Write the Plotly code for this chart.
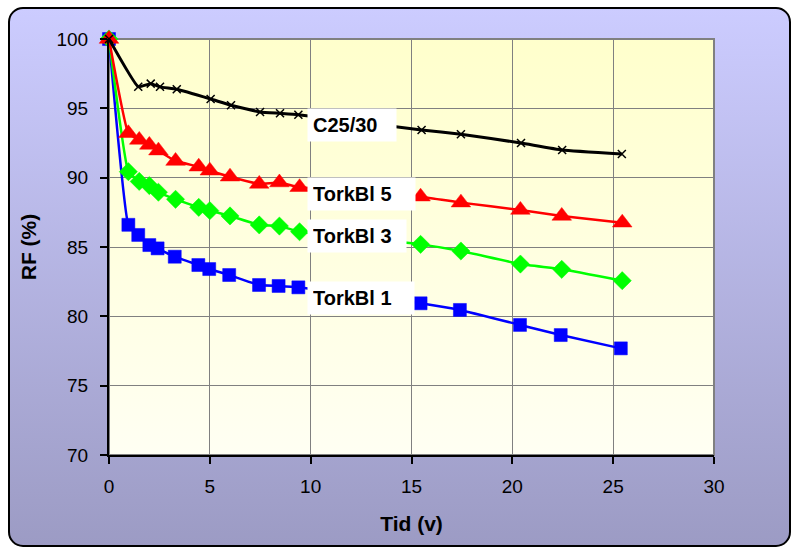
import base64
import plotly.graph_objects as go

# ---- data ----
t1_x = [0, 0.96, 1.45, 2.0, 2.41, 3.26, 4.43, 4.97, 5.96, 7.44, 8.41, 9.39, 15.45, 17.4, 20.38, 22.4, 25.38]
t1_y = [100, 86.6, 85.87, 85.14, 84.9, 84.3, 83.7, 83.41, 82.98, 82.26, 82.19, 82.09, 80.94, 80.46, 79.38, 78.65, 77.69]

t3_x = [0, 0.96, 1.5, 2.0, 2.45, 3.3, 4.45, 5.0, 6.0, 7.45, 8.45, 9.45, 15.45, 17.45, 20.4, 22.45, 25.45]
t3_y = [100, 90.43, 89.73, 89.43, 88.95, 88.44, 87.86, 87.62, 87.24, 86.59, 86.51, 86.1, 85.19, 84.71, 83.77, 83.39, 82.57]

t5_x = [0, 0.96, 1.5, 2.0, 2.45, 3.3, 4.45, 5.0, 6.0, 7.45, 8.45, 9.45, 15.45, 17.45, 20.4, 22.45, 25.45]
t5_y = [100, 93.2, 92.72, 92.36, 91.95, 91.2, 90.79, 90.5, 90.07, 89.55, 89.65, 89.31, 88.63, 88.2, 87.67, 87.24, 86.75]

c_x = [0, 1.45, 2.07, 2.53, 3.36, 5.04, 6.05, 7.49, 8.48, 9.39, 15.5, 17.45, 20.43, 22.47, 25.43]
c_y = [100, 96.56, 96.78, 96.55, 96.37, 95.67, 95.22, 94.74, 94.64, 94.54, 93.44, 93.13, 92.5, 92.0, 91.71]

series_names = ["TorkBl 1", "TorkBl 3", "TorkBl 5", "C25/30"]
label_y = [81.3, 85.77, 88.82, 93.78]
label_x = 9.8
label_w = [96, 88, 97, 78]

x_ticks = [0, 5, 10, 15, 20, 25, 30]
y_ticks = [70, 75, 80, 85, 90, 95, 100]

FONT = "Arial, Liberation Sans, sans-serif"

# ---- background (rounded frame + plot area gradient) ----
W, H = 795, 549
L, R, T, B = 109, 81, 39, 94
pw, ph = W - L - R, H - T - B
svg = f'''<svg xmlns="http://www.w3.org/2000/svg" width="{W}" height="{H}" viewBox="0 0 {W} {H}">
<defs>
<linearGradient id="g1" x1="0" y1="0" x2="0" y2="1">
<stop offset="0" stop-color="#CCCCFF"/><stop offset="1" stop-color="#9C9BC4"/></linearGradient>
<linearGradient id="g2" x1="0" y1="0" x2="0" y2="1">
<stop offset="0" stop-color="#FFFFCC"/><stop offset="1" stop-color="#FFFFF3"/></linearGradient>
</defs>
<rect x="0" y="0" width="{W}" height="{H}" fill="#FFFFFF"/>
<rect x="9" y="8" width="781" height="538" rx="14" ry="14" fill="url(#g1)" stroke="#000000" stroke-width="2"/>
<rect x="{L}" y="{T}" width="{pw}" height="{ph}" fill="url(#g2)"/>
</svg>'''
src = "data:image/svg+xml;base64," + base64.b64encode(svg.encode()).decode()

fig = go.Figure()

styles = [
    dict(color="#0000FF", symbol="square", size=13, lw=2.5),
    dict(color="#00FF00", symbol="diamond", size=14, lw=2.5),
    dict(color="#FF0000", symbol="triangle-up", size=17, lw=2.5),
]
for (xs, ys), st, nm in zip([(t1_x, t1_y), (t3_x, t3_y), (t5_x, t5_y)], styles, series_names[:3]):
    fig.add_trace(go.Scatter(
        x=xs, y=ys, name=nm, mode="lines+markers",
        line=dict(color=st["color"], width=st["lw"], shape="spline", smoothing=0.35),
        marker=dict(symbol=st["symbol"], size=st["size"], color=st["color"],
                    line=dict(width=0.5, color=st["color"])),
        cliponaxis=False, showlegend=False))

fig.add_trace(go.Scatter(
    x=c_x, y=c_y, name="C25/30", mode="lines+markers",
    line=dict(color="#000000", width=3, shape="spline", smoothing=0.35),
    marker=dict(symbol="x-thin", size=8, color="#000000", line=dict(width=1.5, color="#000000")),
    cliponaxis=False, showlegend=False))

for nm, ly, w in zip(series_names, label_y, label_w):
    fig.add_annotation(x=label_x, y=ly, xref="x", yref="y", text=f"<b>{nm}</b>",
                       showarrow=False, xanchor="left", yanchor="middle", align="left",
                       width=w, bgcolor="#FFFFFF", borderpad=5,
                       font=dict(family=FONT, size=20, color="#000000"))

fig.add_shape(type="rect", xref="paper", yref="paper", x0=0, x1=1, y0=0, y1=1,
              line=dict(color="#808080", width=2), fillcolor="rgba(0,0,0,0)", layer="below")

fig.add_layout_image(dict(source=src, xref="paper", yref="paper",
                          x=-L / pw, y=1 + T / ph, sizex=W / pw, sizey=H / ph,
                          xanchor="left", yanchor="top", sizing="stretch", layer="below"))

axis_common = dict(showgrid=True, gridcolor="#808080", gridwidth=1, zeroline=False,
                   showline=True, linecolor="#000000", linewidth=2,
                   ticks="outside", ticklen=7, tickwidth=1.5, tickcolor="#000000",
                   tickfont=dict(family=FONT, size=19, color="#000000"))

fig.update_xaxes(range=[0, 30], tickvals=x_ticks, ticktext=[str(v) for v in x_ticks],
                 title=dict(text="<b>Tid (v)</b>", font=dict(family=FONT, size=21, color="#000000"), standoff=21),
                 ticklabelstandoff=6, **axis_common)
fig.update_yaxes(range=[70, 100], tickvals=y_ticks, ticktext=[str(v) for v in y_ticks],
                 title=dict(text="<b>RF (%)</b>", font=dict(family=FONT, size=21, color="#000000"), standoff=14),
                 ticklabelstandoff=8, **axis_common)

fig.update_layout(width=W, height=H, margin=dict(l=L, r=R, t=T, b=B, autoexpand=False),
                  paper_bgcolor="#FFFFFF", plot_bgcolor="rgba(0,0,0,0)",
                  font=dict(family=FONT, color="#000000"))

fig.write_html("out.html")
